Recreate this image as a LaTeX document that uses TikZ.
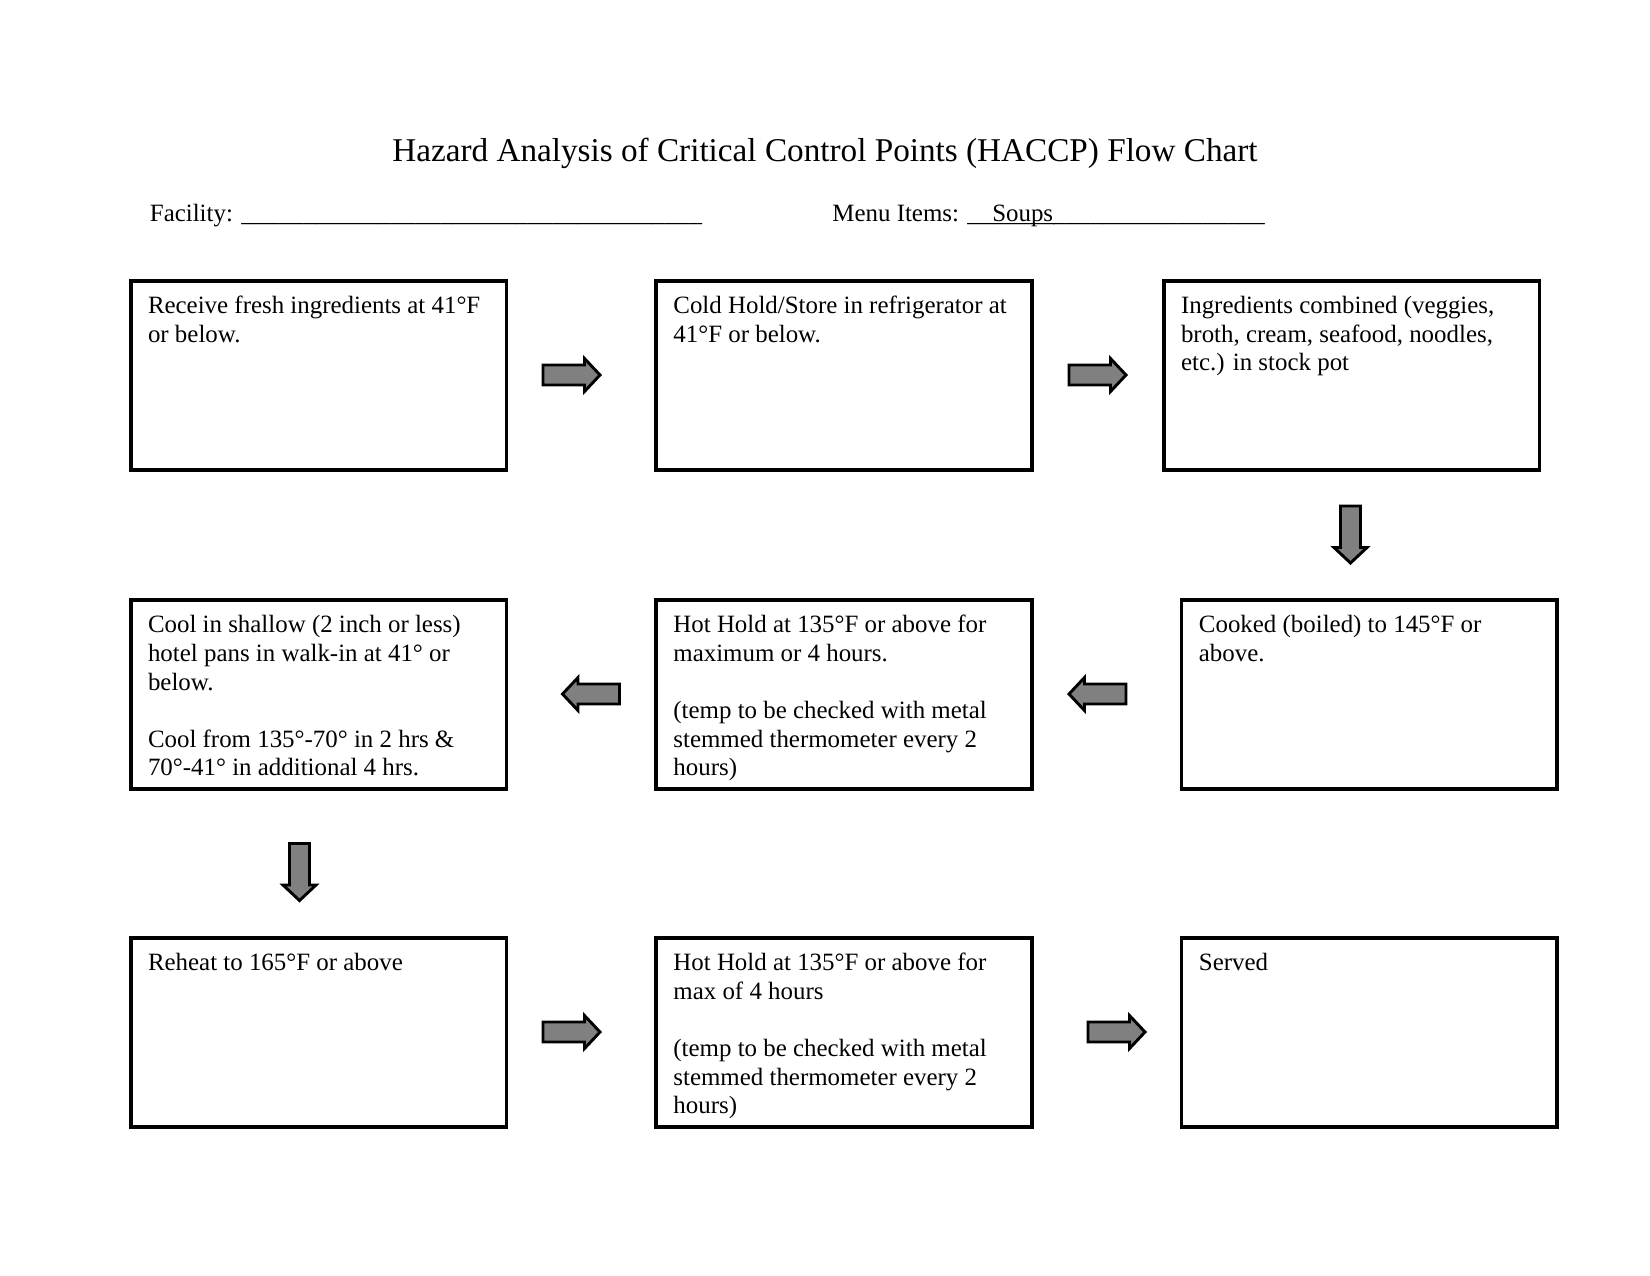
\documentclass[tikz,border=0pt]{standalone}
\usepackage{fontspec}
\setmainfont{Liberation Serif}
\usetikzlibrary{calc}
\newcommand{\us}[1]{\foreach \i in {1,...,#1}{\_}}
\begin{document}
\begin{tikzpicture}[x=0.4818pt,y=-0.4818pt,
  stepbox/.style={draw, line width=1.9pt, minimum width=181.1pt, minimum height=90.9pt, anchor=north west, inner sep=0pt, outer sep=0pt},
  boxtext/.style={anchor=base west, inner sep=0pt, font=\fontsize{12}{13.8}\selectfont},
  headtext/.style={anchor=base west, inner sep=0pt, font=\fontsize{12}{13.8}\selectfont},
  blockarr/.pic={\filldraw[fill=gray, draw=black, line width=1.4pt, miter limit=10] (-28.5,-10) -- (13,-10) -- (13,-16.5) -- (28.5,0) -- (13,16.5) -- (13,10) -- (-28.5,10) -- cycle;}
]
\useasboundingbox (0,0) rectangle (1650,1275);

% title and header
\node[anchor=base, inner sep=0pt, font=\fontsize{16}{19}\selectfont] (title) at (825,161.7)
  {Hazard Analysis of Critical Control Points (HACCP) Flow Chart};
\node[headtext] (fac) at (149.5,221) {Facility: \us{37}};
\node[headtext] (menu) at (832,221) {Menu Items: \_\_\rlap{\us{5}}Soups\us{17}};

% boxes
\node[stepbox] (b1) at (130.6,281) {};
\node[stepbox] (b2) at (656,281) {};
\node[stepbox] (b3) at (1163.6,281) {};
\node[stepbox] (b4) at (130.6,600.2) {};
\node[stepbox] (b5) at (656,600.2) {};
\node[stepbox] (b6) at (1181.5,600.2) {};
\node[stepbox] (b7) at (130.6,938.2) {};
\node[stepbox] (b8) at (656,938.2) {};
\node[stepbox] (b9) at (1181.5,938.2) {};

% box texts
\node[boxtext] (t1) at ($(b1.north west)+(17,32.5)$) {\begin{tabular}[t]{@{}l@{}}Receive fresh ingredients at 41°F\\ or below.\end{tabular}};
\node[boxtext] (t2) at ($(b2.north west)+(17,32.5)$) {\begin{tabular}[t]{@{}l@{}}Cold Hold/Store in refrigerator at\\ 41°F or below.\end{tabular}};
\node[boxtext] (t3) at ($(b3.north west)+(17,32.5)$) {\begin{tabular}[t]{@{}l@{}}Ingredients combined (veggies,\\ broth, cream, seafood, noodles,\\ etc.) in stock pot\end{tabular}};
\node[boxtext] (t4) at ($(b4.north west)+(17,32.5)$) {\begin{tabular}[t]{@{}l@{}}Cool in shallow (2 inch or less)\\ hotel pans in walk-in at 41° or\\ below.\\ \\ Cool from 135°-70° in 2 hrs \&\\ 70°-41° in additional 4 hrs.\end{tabular}};
\node[boxtext] (t5) at ($(b5.north west)+(17,32.5)$) {\begin{tabular}[t]{@{}l@{}}Hot Hold at 135°F or above for\\ maximum or 4 hours.\\ \\ (temp to be checked with metal\\ stemmed thermometer every 2\\ hours)\end{tabular}};
\node[boxtext] (t6) at ($(b6.north west)+(17,32.5)$) {\begin{tabular}[t]{@{}l@{}}Cooked (boiled) to 145°F or\\ above.\end{tabular}};
\node[boxtext] (t7) at ($(b7.north west)+(17,32.5)$) {\begin{tabular}[t]{@{}l@{}}Reheat to 165°F or above\end{tabular}};
\node[boxtext] (t8) at ($(b8.north west)+(17,32.5)$) {\begin{tabular}[t]{@{}l@{}}Hot Hold at 135°F or above for\\ max of 4 hours\\ \\ (temp to be checked with metal\\ stemmed thermometer every 2\\ hours)\end{tabular}};
\node[boxtext] (t9) at ($(b9.north west)+(17,32.5)$) {\begin{tabular}[t]{@{}l@{}}Served\end{tabular}};

% block arrows
\coordinate (a1) at (571.5,375);
\coordinate (a2) at (1097.5,375);
\coordinate (a3) at (1350.5,534.5);
\coordinate (a4) at (1097.5,694);
\coordinate (a5) at (591,694);
\coordinate (a6) at (299.5,872);
\coordinate (a7) at (571.5,1032);
\coordinate (a8) at (1116.5,1032);
\pic at (a1) {blockarr};
\pic at (a2) {blockarr};
\pic[rotate=-90] at (a3) {blockarr};
\pic[rotate=180] at (a4) {blockarr};
\pic[rotate=180] at (a5) {blockarr};
\pic[rotate=-90] at (a6) {blockarr};
\pic at (a7) {blockarr};
\pic at (a8) {blockarr};
\end{tikzpicture}
\end{document}
